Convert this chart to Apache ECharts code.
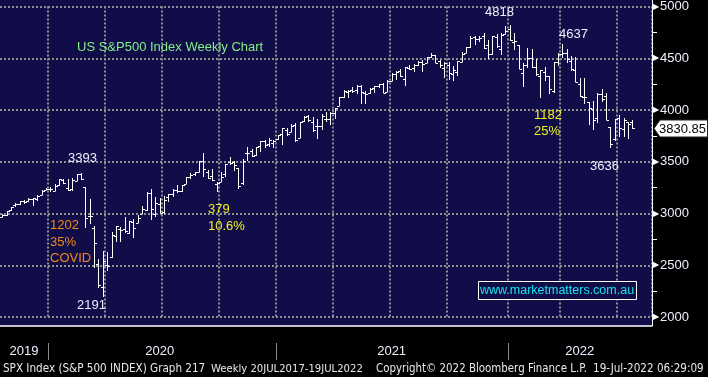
<!DOCTYPE html>
<html>
<head>
<meta charset="utf-8">
<script src="https://cdn.jsdelivr.net/npm/echarts@6/dist/echarts.min.js"></script>
<style>
  html, body { margin: 0; padding: 0; background: #000; }
  #chart { width: 708px; height: 377px; }
</style>
</head>
<body>
<div id="chart"></div>
<script>
// weekly bars, Friday dates, 2019-10-18 .. 2022-07-22 (+4 empty weeks of room on the right)
var firstFriday = Date.UTC(2019, 9, 18)
var weekCount = 149
var weeks = []
for (var k = 0; k < weekCount; k++) {
  weeks.push(new Date(firstFriday + k * 7 * 864e5).toISOString().slice(0, 10))
}

var opens = [
  2966, 2989, 3033, 3078, 3090, 3123, 3117, 3143, 3141, 3183, 3227,
  3240, 3218, 3271, 3323, 3248, 3235, 3318, 3379, 3257, 2974, 2863, 2508, 2290, 2498, 2579, 2782, 2846,
  2854, 2815, 2915, 2913, 3000, 3038, 3199, 2994, 3094, 3018, 3155, 3191, 3224, 3219, 3288, 3356, 3378,
  3401, 3507, 3400, 3363, 3285, 3309, 3385, 3494, 3493, 3441, 3296, 3584, 3600, 3567, 3653, 3698, 3675, 3684,
  3723, 3764, 3803, 3788, 3856, 3732, 3892, 3939, 3885, 3842, 3844, 3913, 3917, 3969, 4034, 4124, 4174,
  4194, 4191, 4229, 4169, 4168, 4216, 4230, 4255, 4174, 4284, 4344, 4372, 4296, 4410, 4407, 4438, 4462,
  4458, 4513, 4536, 4469, 4403, 4438, 4348, 4367, 4464, 4553, 4610, 4701, 4689, 4712, 4628, 4539, 4710, 4588, 4733,
  4778, 4655, 4632, 4356, 4431, 4505, 4411, 4332, 4363, 4327, 4188, 4462, 4541, 4547, 4474, 4385, 4253,
  4130, 4081, 4013, 3919, 4151, 4135, 3838, 3715, 3920, 3815, 3880, 3883
]
var highs = [
  3000, 3027, 3066, 3097, 3120, 3127, 3154, 3150, 3182, 3226, 3248,
  3259, 3282, 3329, 3337, 3337, 3347, 3385, 3393, 3260, 3137, 2883, 2562, 2637, 2632, 2819, 2879, 2870,
  2965, 2932, 2945, 2981, 3068, 3212, 3233, 3155, 3154, 3165, 3186, 3238, 3280, 3272, 3352, 3387, 3399,
  3509, 3588, 3425, 3429, 3306, 3397, 3482, 3550, 3503, 3441, 3529, 3645, 3628, 3645, 3699, 3712, 3726, 3711,
  3760, 3827, 3823, 3861, 3870, 3888, 3938, 3950, 3928, 3914, 3960, 3983, 3978, 4020, 4129, 4191, 4195,
  4218, 4238, 4245, 4188, 4214, 4234, 4249, 4261, 4287, 4356, 4372, 4394, 4415, 4430, 4440, 4469, 4480,
  4513, 4546, 4536, 4486, 4465, 4465, 4429, 4475, 4559, 4608, 4718, 4714, 4718, 4744, 4672, 4713, 4731, 4740, 4808,
  4818, 4748, 4632, 4453, 4595, 4590, 4489, 4385, 4416, 4327, 4465, 4546, 4637, 4593, 4521, 4513, 4308,
  4308, 4081, 4091, 4160, 4204, 4168, 3838, 3913, 3950, 3918, 3880, 3903
]
var lows = [
  2963, 2978, 3024, 3066, 3078, 3090, 3113, 3070, 3125, 3180, 3226,
  3212, 3214, 3262, 3282, 3214, 3214, 3315, 3328, 2856, 2901, 2478, 2280, 2191, 2447, 2568, 2729, 2727,
  2816, 2798, 2766, 2909, 2999, 3025, 2936, 2966, 3004, 2999, 3115, 3155, 3200, 3209, 3284, 3329, 3367,
  3398, 3349, 3329, 3317, 3209, 3307, 3357, 3468, 3412, 3233, 3280, 3512, 3543, 3552, 3594, 3633, 3647, 3636,
  3707, 3663, 3749, 3784, 3694, 3726, 3885, 3884, 3789, 3723, 3805, 3885, 3853, 3917, 4034, 4117, 4118,
  4169, 4159, 4057, 4062, 4155, 4167, 4217, 4164, 4174, 4279, 4289, 4321, 4233, 4385, 4367, 4423, 4367,
  4455, 4506, 4457, 4406, 4305, 4288, 4278, 4329, 4459, 4546, 4596, 4630, 4660, 4585, 4495, 4531, 4600, 4532, 4733,
  4662, 4582, 4395, 4223, 4407, 4401, 4327, 4115, 4279, 4157, 4161, 4424, 4507, 4450, 4381, 4267, 4124,
  4062, 3859, 3810, 3875, 4074, 3901, 3637, 3705, 3739, 3742, 3722, 3818
]
var closes = [
  2986, 3023, 3067, 3093, 3120, 3110, 3141, 3146, 3169, 3221, 3240,
  3235, 3265, 3329, 3295, 3226, 3328, 3380, 3338, 2954, 2972, 2711, 2305, 2541, 2489, 2790, 2875, 2837,
  2831, 2930, 2864, 2955, 3044, 3194, 3041, 3098, 3009, 3130, 3185, 3225, 3216, 3271, 3351, 3373, 3397,
  3508, 3427, 3341, 3319, 3298, 3348, 3477, 3484, 3465, 3270, 3509, 3585, 3558, 3638, 3699, 3663, 3709, 3703,
  3756, 3825, 3768, 3841, 3714, 3887, 3934, 3907, 3811, 3842, 3943, 3913, 3975, 4020, 4129, 4185, 4180,
  4181, 4233, 4174, 4156, 4204, 4230, 4247, 4167, 4281, 4352, 4370, 4327, 4412, 4395, 4437, 4468, 4442,
  4509, 4535, 4458, 4433, 4455, 4357, 4391, 4471, 4545, 4605, 4697, 4683, 4698, 4595, 4538, 4712, 4621, 4726, 4766,
  4677, 4663, 4398, 4432, 4501, 4419, 4349, 4385, 4329, 4204, 4463, 4543, 4546, 4488, 4393, 4272, 4132,
  4123, 4023, 3901, 4158, 4109, 3901, 3675, 3912, 3825, 3899, 3863, 3830.85
]

var yTicks = [2000, 5000, 500]   // min, max, step of the price scale

var lastClose = closes[closes.length - 1]
var ohlcData = closes.map(function (c, i) {
  return [i, opens[i], highs[i], lows[i], c]
})

function monthOf(i) { return +weeks[i].slice(5, 7) }
function yearOf(i) { return weeks[i].slice(0, 4) }

// middle week of every year, used for the year labels
var yearMid = {}
var yearStart = []
;(function () {
  var s = 0
  for (var i = 1; i <= weeks.length; i++) {
    if (i === weeks.length || yearOf(i) !== yearOf(s)) {
      yearMid[Math.floor((s + i - 1) / 2)] = true
      if (s > 0) yearStart.push(s)
      s = i
    }
  }
})()

function renderOhlc(params, api) {
  var i = api.value(0)
  var hi = api.coord([i, api.value(2)])
  var lo = api.coord([i, api.value(3)])
  var op = api.coord([i, api.value(1)])
  var cl = api.coord([i, api.value(4)])
  var x = Math.round(hi[0]) + 0.5
  var st = { stroke: '#ffffff', lineWidth: 1 }
  var yo = Math.round(op[1]) + 0.5
  var yc = Math.round(cl[1]) + 0.5
  return {
    type: 'group',
    children: [
      { type: 'line', shape: { x1: x, y1: Math.round(hi[1]), x2: x, y2: Math.round(lo[1]) }, style: st },
      { type: 'line', shape: { x1: x - 2.5, y1: yo, x2: x, y2: yo }, style: st },
      { type: 'line', shape: { x1: x, y1: yc, x2: x + 2.5, y2: yc }, style: st }
    ]
  }
}

var NAVY = '#100d48'
var GRIDC = '#8e8e8e'
var TXT = '#eef0ff'

var myChart = echarts.init(document.getElementById('chart'))

myChart.setOption({
  backgroundColor: '#000',
  animation: false,
  grid: { left: 0, right: 56, top: 5, bottom: 60, containLabel: false },
  xAxis: {
    type: 'category',
    data: weeks,
    boundaryGap: true,
    offset: 9,
    axisLine: { lineStyle: { color: '#fff', width: 1.5 } },
    axisTick: {
      length: 4,
      lineStyle: { color: '#fff' },
      interval: function (i) { return i > 0 && monthOf(i) !== monthOf(i - 1) }
    },
    axisLabel: {
      color: TXT,
      fontFamily: 'Liberation Sans',
      fontSize: 13,
      margin: 19,
      interval: function (i) { return !!yearMid[i] },
      formatter: function (v) { return v.slice(0, 4) }
    },
    splitLine: {
      show: true,
      interval: function (i) {
        return i > 0 && monthOf(i) !== monthOf(i - 1) && (monthOf(i) - 1) % 3 === 0
      },
      lineStyle: { color: GRIDC, width: 2, type: [2, 2] }
    }
  },
  yAxis: {
    type: 'value',
    position: 'right',
    min: yTicks[0],
    max: yTicks[1],
    interval: yTicks[2],
    axisLine: { show: false },
    axisTick: { show: false },
    minorTick: { show: true, splitNumber: 2, length: 5, lineStyle: { color: '#fff' } },
    axisLabel: {
      margin: 1,
      formatter: function (v) { return '{t|▶}{v|' + v + '}' },
      rich: {
        t: { color: '#fff', fontSize: 8, padding: [0, 1, 0, 0] },
        v: { color: TXT, fontSize: 13, fontFamily: 'Liberation Sans' }
      }
    },
    splitLine: { show: true, lineStyle: { color: GRIDC, width: 2, type: [2, 2] } }
  },
  series: [
    {
      type: 'custom',
      name: 'SPX',
      renderItem: renderOhlc,
      encode: { x: 0, y: [1, 2, 3, 4] },
      data: ohlcData,
      z: 5
    }
  ]
})

// frame, notes and footer
function txt(x, y, s, color, size, family) {
  return {
    type: 'text', silent: true, z: 10,
    style: {
      x: x, y: y, text: s, fill: color,
      fontSize: size || 13, fontFamily: family || 'Liberation Sans',
      verticalAlign: 'middle', align: 'left'
    }
  }
}

var bandW = myChart.getModel().getComponent('xAxis', 0).axis.getBandWidth()
var graphics = [
  { type: 'rect', silent: true, z: -10, shape: { x: 0, y: 0, width: 652, height: 326 }, style: { fill: NAVY } },
  { type: 'line', silent: true, z: 10, shape: { x1: 652.5, y1: 0, x2: 652.5, y2: 326 }, style: { stroke: '#fff', lineWidth: 1 } }
]
yearStart.forEach(function (i) {
  var x = Math.round(myChart.convertToPixel({ xAxisIndex: 0 }, i) - bandW / 2) + 0.5
  graphics.push({ type: 'line', silent: true, shape: { x1: x, y1: 343, x2: x, y2: 360 }, style: { stroke: '#8a8a8a', lineWidth: 1 } })
})

// last price tag on the price axis
var tagY = Math.round(myChart.convertToPixel({ yAxisIndex: 0 }, lastClose)) + 0.5
graphics.push(
  {
    type: 'polygon', silent: true, z: 12,
    shape: { points: [[654, tagY], [660, tagY - 8.5], [707.5, tagY - 8.5], [707.5, tagY + 8.5], [660, tagY + 8.5]] },
    style: { fill: '#fff', stroke: '#222', lineWidth: 1 }
  },
  {
    type: 'text', silent: true, z: 13,
    style: { x: 706, y: tagY + 0.5, text: lastClose.toFixed(2), fill: '#000', fontSize: 13, fontFamily: 'Liberation Sans', align: 'right', verticalAlign: 'middle' }
  }
)

var footFont = 'DejaVu Sans Condensed'
graphics.push(
  txt(77, 47, 'US S&P500 Index Weekly Chart', '#86ee86'),
  txt(68, 158, '3393', TXT),
  txt(50, 225, '1202', '#f08a1e'),
  txt(50, 242, '35%', '#f08a1e'),
  txt(50, 258, 'COVID', '#f08a1e'),
  txt(77, 305, '2191', TXT),
  txt(208, 209, '379', '#f0f020'),
  txt(208, 226, '10.6%', '#f0f020'),
  txt(485, 12, '4818', TXT),
  txt(559, 34, '4637', TXT),
  txt(534, 115, '1182', '#f0f020'),
  txt(534, 131, '25%', '#f0f020'),
  txt(590, 166, '3636', TXT),
  { type: 'rect', silent: true, z: 10, shape: { x: 478.5, y: 281.5, width: 158, height: 18 }, style: { fill: NAVY, stroke: '#fff', lineWidth: 1 } },
  {
    type: 'text', silent: true, z: 11,
    style: { x: 557, y: 291, text: 'www.marketmatters.com.au', fill: '#19e3f0', fontSize: 12.5, fontFamily: 'Liberation Sans', align: 'center', verticalAlign: 'middle' }
  },
  txt(3, 369, 'SPX Index (S&P 500 INDEX) Graph 217', '#e8e8e8', 11.6, footFont),
  txt(211, 369, 'Weekly 20JUL2017-19JUL2022', '#e8e8e8', 11.2, footFont),
  txt(376, 369, 'Copyright© 2022 Bloomberg Finance L.P.', '#e8e8e8', 11.4, footFont),
  txt(593, 369, '19-Jul-2022 06:29:09', '#e8e8e8', 11.6, footFont)
)

myChart.setOption({ graphic: graphics })
</script>
</body>
</html>
